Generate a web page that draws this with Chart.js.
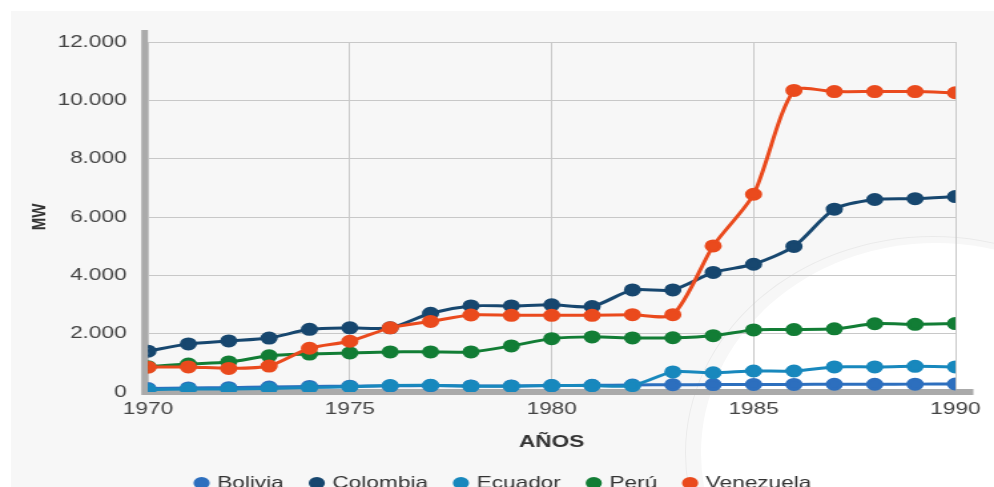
<!DOCTYPE html>
<html>
<head>
<meta charset="utf-8">
<script src="https://cdn.jsdelivr.net/npm/chart.js@4.4.0/dist/chart.umd.min.js"></script>
<style>
  html, body { margin: 0; padding: 0; background: #fff; }
  #page { position: relative; width: 994px; height: 487px; overflow: hidden; background: #fff; }
  #panel { position: absolute; left: 11px; top: 11px; right: 0; bottom: 0; background: #f7f7f7; overflow: hidden; }
  #ring { position: absolute; left: 674px; top: 225px; width: 494px; height: 432px; border-radius: 50%; border: 1px solid rgba(0,0,0,0.05); }
  #disc { position: absolute; left: 690px; top: 232px; width: 470px; height: 420px; border-radius: 50%; background: #fff; }
  /* the reference is stretched sideways, so the chart is drawn narrow and widened */
  #wrap { position: absolute; left: 0; top: 0; width: 747px; height: 487px; transform: scaleX(1.3307); transform-origin: 0 0; }
</style>
</head>
<body>
<div id="page">
  <div id="panel"><div id="ring"></div><div id="disc"></div></div>
  <div id="wrap"><canvas id="chart" width="747" height="487"></canvas></div>
</div>
<script>
// data (MW)
const years = [1970, 1971, 1972, 1973, 1974, 1975, 1976, 1977, 1978, 1979, 1980,
               1981, 1982, 1983, 1984, 1985, 1986, 1987, 1988, 1989, 1990];
const bolivia   = [120, 140, 150, 170, 190, 200, 210, 220, 210, 210, 220,
                   230, 240, 250, 255, 260, 260, 265, 265, 270, 275];
const colombia  = [1400, 1650, 1750, 1850, 2150, 2200, 2200, 2700, 2950, 2950, 2990,
                   2930, 3500, 3500, 4100, 4380, 4990, 6270, 6600, 6630, 6700];
const ecuador   = [80, 100, 100, 120, 150, 180, 220, 230, 200, 200, 220,
                   220, 220, 690, 660, 720, 720, 860, 860, 880, 860];
const peru      = [870, 960, 1030, 1240, 1300, 1340, 1375, 1375, 1375, 1580, 1830,
                   1890, 1855, 1860, 1930, 2130, 2140, 2165, 2340, 2320, 2345];
const venezuela = [850, 860, 810, 890, 1500, 1740, 2200, 2420, 2640, 2630, 2630,
                   2630, 2650, 2650, 5010, 6780, 10340, 10300, 10300, 10300, 10260];

const xTickLabels = ['1970', '1975', '1980', '1985', '1990'];
const yTickLabels = ['0', '2.000', '4.000', '6.000', '8.000', '10.000', '12.000'];

const FONT = '"Liberation Sans", Arial, sans-serif';

function series(label, values, color, order) {
  return {
    label: label,
    data: years.map((yr, i) => ({ x: yr, y: values[i] })),
    borderColor: color,
    backgroundColor: color,
    pointBackgroundColor: color,
    pointBorderColor: color,
    pointRadius: 5,
    pointHoverRadius: 5,
    borderWidth: 3,
    tension: 0.25,
    fill: false,
    order: order
  };
}

// thick grey axis bars, drawn under the lines
const axisBars = {
  id: 'axisBars',
  beforeDatasetsDraw(chart) {
    const { ctx, chartArea: a } = chart;
    ctx.save();
    ctx.fillStyle = '#aaaaaa';
    ctx.fillRect(a.left - 5, a.top - 12, 5, a.bottom - a.top + 15);
    ctx.fillRect(a.left - 4, a.bottom - 3, a.right - a.left + 17.5, 6);
    ctx.restore();
  }
};

new Chart(document.getElementById('chart'), {
  type: 'line',
  data: {
    datasets: [
      series('Bolivia', bolivia, '#2d6fbe', 5),
      series('Colombia', colombia, '#17476f', 4),
      series('Ecuador', ecuador, '#1888bd', 3),
      series('Perú', peru, '#127d35', 2),
      series('Venezuela', venezuela, '#ea4a1d', 1)
    ]
  },
  options: {
    responsive: false,
    animation: false,
    layout: { padding: { left: 40, right: 29, top: 42, bottom: -14.5 } },
    plugins: {
      tooltip: { enabled: false },
      legend: {
        position: 'bottom',
        labels: {
          usePointStyle: true,
          pointStyle: 'circle',
          boxWidth: 6.5,
          boxHeight: 6.5,
          padding: 21.5,
          color: '#333',
          font: { family: FONT, size: 17 },
          sort: (a, b) => a.datasetIndex - b.datasetIndex
        }
      }
    },
    scales: {
      x: {
        type: 'linear',
        min: 1970,
        max: 1990,
        afterFit: (s) => { s.height = 61; },
        ticks: {
          stepSize: 5,
          padding: 7,
          color: '#444',
          font: { family: FONT, size: 17 },
          callback: (v, i) => xTickLabels[i]
        },
        grid: { color: '#c8c8c8', lineWidth: 1, drawTicks: false },
        border: { display: false },
        title: {
          display: true,
          text: 'AÑOS',
          color: '#333',
          font: { family: FONT, size: 17, weight: 'bold' },
          padding: { top: 0, bottom: 0 }
        }
      },
      y: {
        min: 0,
        max: 12000,
        afterFit: (s) => { s.width = 71.2; },
        ticks: {
          stepSize: 2000,
          padding: 16,
          color: '#444',
          font: { family: FONT, size: 17 },
          callback: (v, i) => yTickLabels[i]
        },
        grid: { color: '#c8c8c8', lineWidth: 1, drawTicks: false },
        border: { display: false },
        title: {
          display: true,
          text: 'MW',
          color: '#333',
          font: { family: FONT, size: 15, weight: 'bold' },
          padding: { top: -19, bottom: 0 }
        }
      }
    }
  },
  plugins: [axisBars]
});
</script>
</body>
</html>
